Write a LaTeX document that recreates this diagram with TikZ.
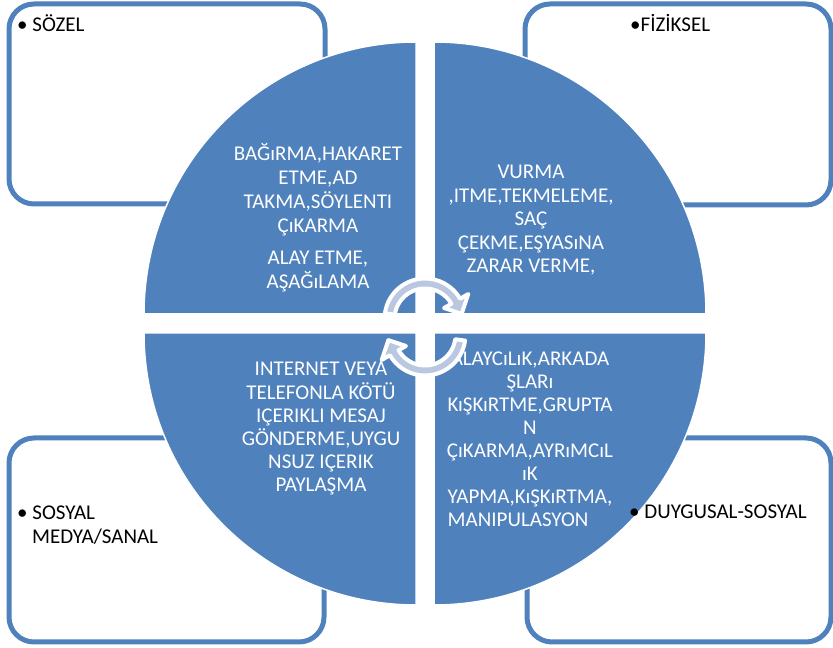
\documentclass[tikz,border=0pt]{standalone}
\usepackage{fontspec}
\setmainfont{Carlito}
\definecolor{qblue}{RGB}{79,129,189}
\definecolor{arrowfill}{RGB}{185,199,225}
\begin{document}
\begin{tikzpicture}[x=1pt,y=1pt,
  cornerbox/.style={draw=qblue,line width=5pt,rounded corners=25pt},
  quad/.style={fill=qblue,draw=white,line width=1.5pt},
  cornerlabel/.style={anchor=base west,inner sep=0pt,font=\fontsize{21}{24}\selectfont,text=black},
  quadtext/.style={anchor=base,inner sep=0pt,align=center,text=white},
  cyclearrow/.style={fill=arrowfill,draw=white,line width=4pt,line join=round}]
\useasboundingbox (0,0) rectangle (833,648);
% corner boxes
\draw[cornerbox] (9,444) rectangle (325,644);
\draw[cornerbox] (525,443) rectangle (831,644);
\draw[cornerbox] (9,6) rectangle (324,210);
\draw[cornerbox] (527,6) rectangle (831,210);
% quadrants
\draw[quad] (416,334) -- (144,334) arc[start angle=180,end angle=90,radius=272] -- cycle;
\draw[quad] (434,334) -- (434,606) arc[start angle=90,end angle=0,radius=272] -- cycle;
\draw[quad] (416,315) -- (416,43) arc[start angle=270,end angle=180,radius=272] -- cycle;
\draw[quad] (434,315) -- (706,315) arc[start angle=0,end angle=-90,radius=272] -- cycle;
% corner labels
\node[cornerlabel] (sozel) at (17,616) {• SÖZEL};
\node[cornerlabel] (fiziksel) at (630,616) {•FİZİKSEL};
\node[cornerlabel] (duygusal) at (629,129) {• DUYGUSAL-SOSYAL};
\node[cornerlabel] (sosyal) at (17,128) {• SOSYAL};
\node[cornerlabel] (medya) at (32,104) {MEDYA/SANAL};
% quadrant texts (anchored at the baseline of the last line)
\node[quadtext,font=\fontsize{21}{24}\selectfont] (tltext) at (318,359)
  {BAĞıRMA,HAKARET\\ETME,AD\\TAKMA,SÖYLENTI\\ÇıKARMA\\[8pt]ALAY ETME,\\AŞAĞıLAMA};
\node[quadtext,font=\fontsize{21}{23.5}\selectfont] (trtext) at (531,375)
  {VURMA\\,ITME,TEKMELEME,\\SAÇ\\ÇEKME,EŞYASıNA\\ZARAR VERME,};
\node[quadtext,font=\fontsize{21}{23.2}\selectfont] (bltext) at (321,156)
  {INTERNET VEYA\\TELEFONLA KÖTÜ\\IÇERIKLI MESAJ\\GÖNDERME,UYGU\\NSUZ IÇERIK\\PAYLAŞMA};
\node[quadtext,font=\fontsize{21}{23}\selectfont] (brtext) at (530,121)
  {ALAYCıLıK,ARKADA\\ŞLARı\\KıŞKıRTME,GRUPTA\\N\\ÇıKARMA,AYRıMCıL\\ıK\\YAPMA,KıŞKıRTMA,\\\rlap{MANIPULASYON}\phantom{YAPMA,KıŞKıRTMA,}};
% cycle arrows
\draw[cyclearrow,shift={(425,329)}] (172:40.5) arc[start angle=172,end angle=30,radius=40.5]
  -- (30:50) -- (8:37) -- (30:22) -- (30:30.5) arc[start angle=30,end angle=172,radius=30.5] -- cycle;
\draw[cyclearrow,shift={(425,313)}] (352:40.5) arc[start angle=352,end angle=210,radius=40.5]
  -- (210:50) -- (188:37) -- (210:22) -- (210:30.5) arc[start angle=210,end angle=352,radius=30.5] -- cycle;
\end{tikzpicture}
\end{document}
